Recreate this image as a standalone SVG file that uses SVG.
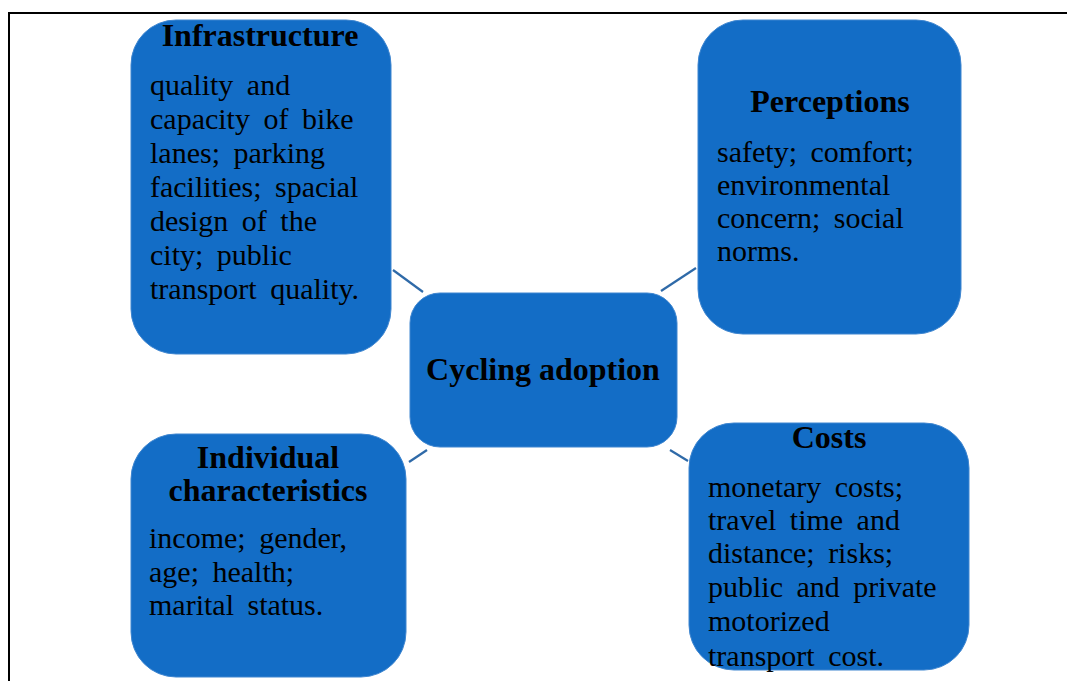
<svg xmlns="http://www.w3.org/2000/svg" width="1067" height="681" viewBox="0 0 1067 681">
<style>
.box{fill:#136dc6;stroke:#3f86d0;stroke-width:1}
.t{font-family:"Liberation Serif","Times New Roman",serif;font-weight:bold;font-size:32px;fill:#000}
.b{font-family:"Liberation Serif","Times New Roman",serif;font-size:30px;fill:#000;word-spacing:6px}
.c{stroke:#2f6aa8;stroke-width:2.2;fill:none}
</style>
<rect width="1067" height="681" fill="#fff"/>
<path d="M9,681 V13 H1067" fill="none" stroke="#000" stroke-width="2"/>
<g id="connectors">
<line class="c" x1="393" y1="270" x2="423" y2="292"/>
<line class="c" x1="661" y1="291" x2="696" y2="268"/>
<line class="c" x1="409" y1="462" x2="427" y2="450"/>
<line class="c" x1="670" y1="450" x2="688" y2="461"/>
</g>
<g id="infrastructure">
<rect class="box" x="131" y="20" width="260" height="334" rx="45"/>
<text class="t" x="260" y="46" text-anchor="middle">Infrastructure</text>
<text class="b" x="150" y="95">quality and</text>
<text class="b" x="150" y="129">capacity of bike</text>
<text class="b" x="150" y="163">lanes; parking</text>
<text class="b" x="150" y="197">facilities; spacial</text>
<text class="b" x="150" y="231">design of the</text>
<text class="b" x="150" y="265">city; public</text>
<text class="b" x="150" y="299">transport quality.</text>
</g>
<g id="perceptions">
<rect class="box" x="698" y="20" width="263" height="314" rx="45"/>
<text class="t" x="830" y="112" text-anchor="middle">Perceptions</text>
<text class="b" x="717" y="162">safety; comfort;</text>
<text class="b" x="717" y="195">environmental</text>
<text class="b" x="717" y="228">concern; social</text>
<text class="b" x="717" y="261">norms.</text>
</g>
<g id="cycling-adoption">
<rect class="box" x="410" y="293" width="267" height="154" rx="30"/>
<text class="t" x="543" y="380" text-anchor="middle">Cycling adoption</text>
</g>
<g id="individual">
<rect class="box" x="131" y="434" width="275" height="243" rx="45"/>
<text class="t" x="268" y="468" text-anchor="middle">Individual</text>
<text class="t" x="268" y="501" text-anchor="middle">characteristics</text>
<text class="b" x="149" y="548">income; gender,</text>
<text class="b" x="149" y="582">age; health;</text>
<text class="b" x="149" y="615">marital status.</text>
</g>
<g id="costs">
<rect class="box" x="689" y="423" width="280" height="247" rx="45"/>
<text class="t" x="829" y="448" text-anchor="middle">Costs</text>
<text class="b" x="708" y="497">monetary costs;</text>
<text class="b" x="708" y="530">travel time and</text>
<text class="b" x="708" y="563">distance; risks;</text>
<text class="b" x="708" y="597">public and private</text>
<text class="b" x="708" y="631">motorized</text>
<text class="b" x="708" y="666">transport cost.</text>
</g>
</svg>
